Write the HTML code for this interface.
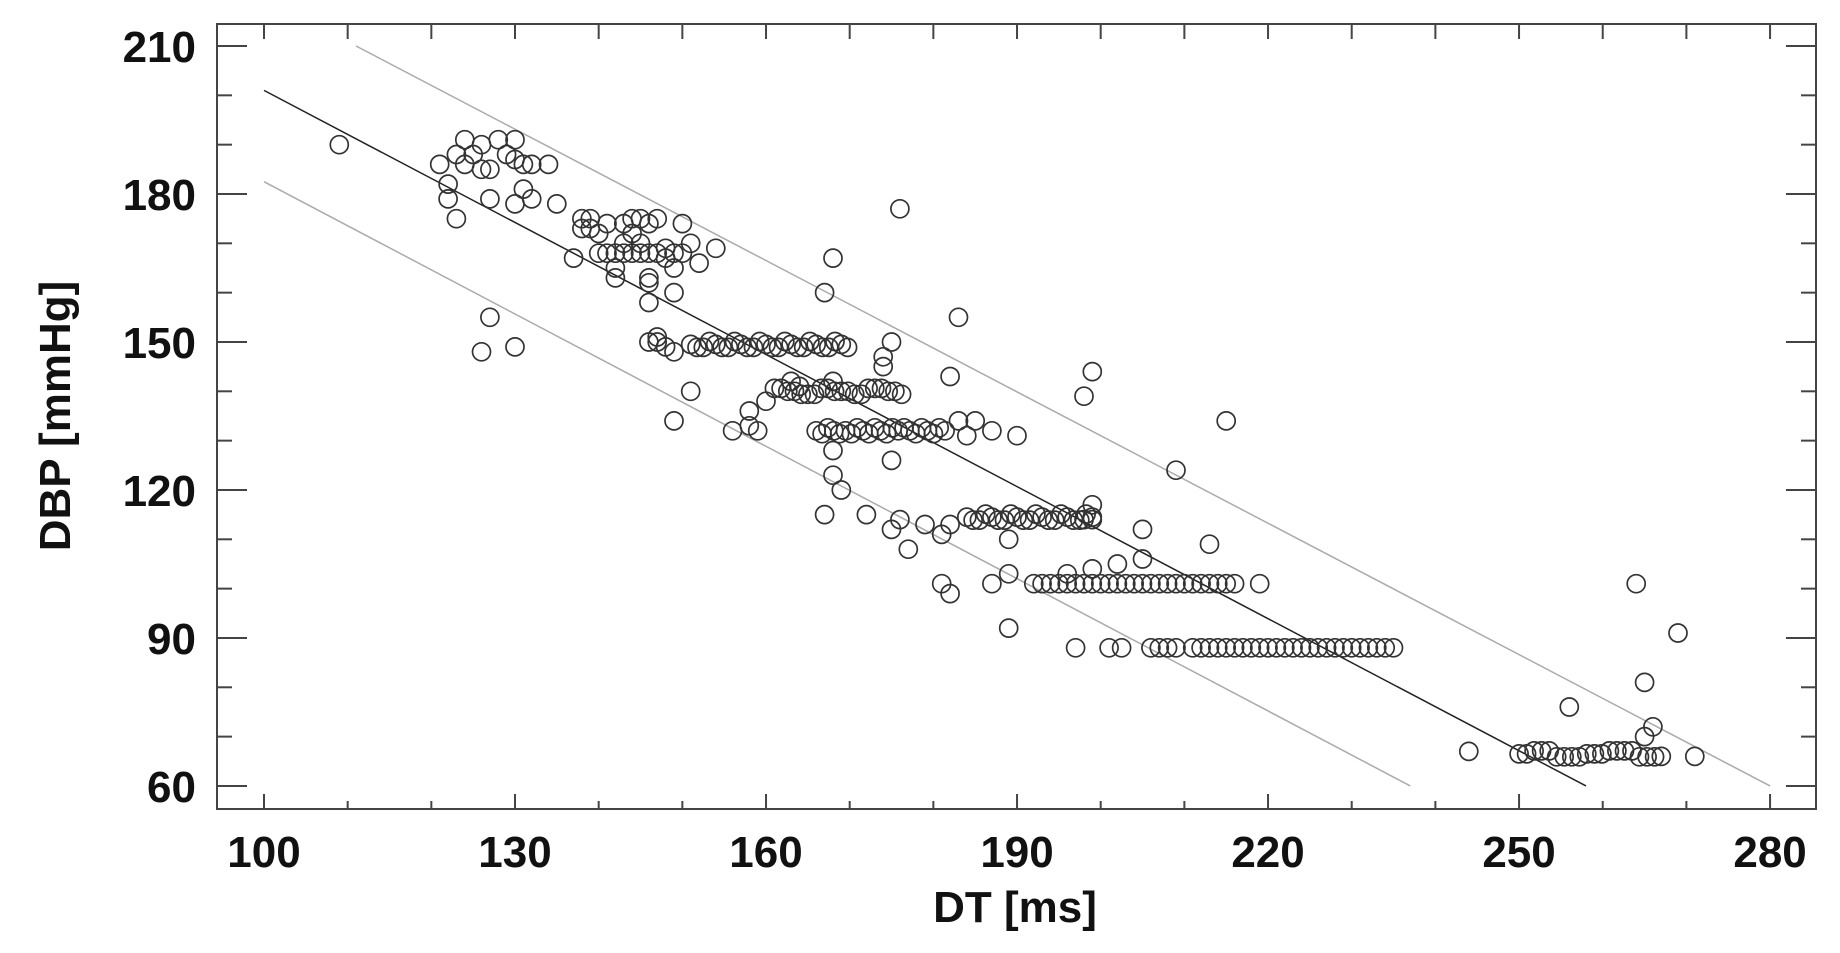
<!DOCTYPE html>
<html><head><meta charset="utf-8"><style>
html,body{margin:0;padding:0;background:#fff;}
svg{display:block;}
text{font-family:"Liberation Sans",Arial,sans-serif;font-weight:bold;fill:#111;}
</style></head><body>
<svg id="s" width="1840" height="953" xmlns="http://www.w3.org/2000/svg">
<rect x="217" y="24" width="1599" height="785" fill="none" stroke="#444" stroke-width="2"/>
<g id="ax"></g>
<g id="ln"></g>
<g id="pt" fill="none" stroke="#333" stroke-width="1.7"></g>
<text x="1015" y="922" font-size="44" text-anchor="middle">DT [ms]</text>
<text transform="translate(70,416) rotate(-90)" font-size="44" text-anchor="middle">DBP [mmHg]</text>
</svg>
<script>
var NS="http://www.w3.org/2000/svg";
function X(v){return 264+(v-100)*8.367;}
function Y(v){return 46+(210-v)*4.933;}
function el(p,t,a,txt){var e=document.createElementNS(NS,t);for(var k in a)e.setAttribute(k,a[k]);if(txt!=null)e.textContent=txt;document.getElementById(p).appendChild(e);}
for(var v=100;v<=280;v+=10){var x=X(v),maj=((v-100)%30==0);
 el("ax","line",{x1:x,y1:809,x2:x,y2:maj?794:801,stroke:"#444","stroke-width":2});
 el("ax","line",{x1:x,y1:24,x2:x,y2:39,stroke:"#444","stroke-width":2});
 if(maj)el("ax","text",{x:x,y:867,"font-size":44,"text-anchor":"middle"},v);}
for(var v=60;v<=210;v+=10){var y=Y(v),maj=(v%30==0);
 el("ax","line",{x1:217,y1:y,x2:maj?247:232,y2:y,stroke:"#444","stroke-width":2});
 el("ax","line",{x1:1816,y1:y,x2:maj?1786:1801,y2:y,stroke:"#444","stroke-width":2});
 if(maj)el("ax","text",{x:196,y:y+16,"font-size":44,"text-anchor":"end"},v);}
el("ln","line",{x1:X(100),y1:Y(201),x2:X(258),y2:Y(60),stroke:"#222","stroke-width":1.5});
el("ln","line",{x1:X(111),y1:Y(210),x2:X(280),y2:Y(60),stroke:"#aaa","stroke-width":1.5});
el("ln","line",{x1:X(100),y1:Y(182.5),x2:X(237),y2:Y(60),stroke:"#aaa","stroke-width":1.5});
var P=[[109,190],[121,186],[122,182],[122,179],[123,175],[123,188],[124,191],[124,186],[125,188],[126,190],[126,185],[127,185],[127,179],[128,191],[129,188],[130,191],[130,187],[131,186],[131,181],[132,179],[132,186],[134,186],[135,178],[130,178],[126,148],[127,155],[130,149],
[137,167],[138,175],[138,173],[139,175],[139,173],[140,168],[140,172],[141,174],[141,168],[142,168],[142,165],[142,163],[143,170],[143,168],[143,174],[144,175],[144,168],[144,172],[145,170],[145,175],[145,168],[146,174],[146,168],[146,163],[146,162],[146,158],[147,175],[147,168],[147,150],[147,151],[148,167],[148,169],[149,168],[149,165],[149,160],[150,174],[150,168],[151,170],[152,166],[154,169],[146,150],[149,148],[148,149],[151,140],[149,134],
[156,132],[158,136],[158,133],[159,132],[160,138],[163,142],[164,141],[167,160],[168,167],[168,142],[168,128],[168,123],[169,120],[167,115],[172,115],[175,150],[174,147],[174,145],[175,126],[176,177],[176,114],[175,112],[177,108],[179,113],[181,111],[182,113],[181,101],[182,99],[182,143],[183,155],[183,134],[185,134],[184,131],[187,132],[190,131],[189,110],[189,103],[187,101],[189,92],[198,139],[199,144],[199,117],[199,114],[198,114],[196,103],[197,88],[199,104],[202,105],[205,112],[205,106],[209,124],[213,109],[215,134],[219,101],[244,67],[256,76],[264,101],[265,81],[266,72],[265,70],[269,91],[267,66],[271,66]];
function row(a,b,y,st,jit){for(var v=a;v<=b;v+=st)P.push([v,y+(jit?((Math.round(v*7)%3)-1)*0.6:0)]);}
row(151,170,149.5,0.75,1);row(161,177,140,0.8,1);row(166,182,132,0.7,1);row(184,199,114.5,0.75,1);
row(192,216,101,1,0);row(201,202.5,88,1.5,0);row(206,209,88,1,0);row(211,235,88,1,0);row(250,267,66.5,0.9,1);
P.forEach(function(p){el("pt","circle",{cx:X(p[0]).toFixed(1),cy:Y(p[1]).toFixed(1),r:9});});
</script>
</body></html>
